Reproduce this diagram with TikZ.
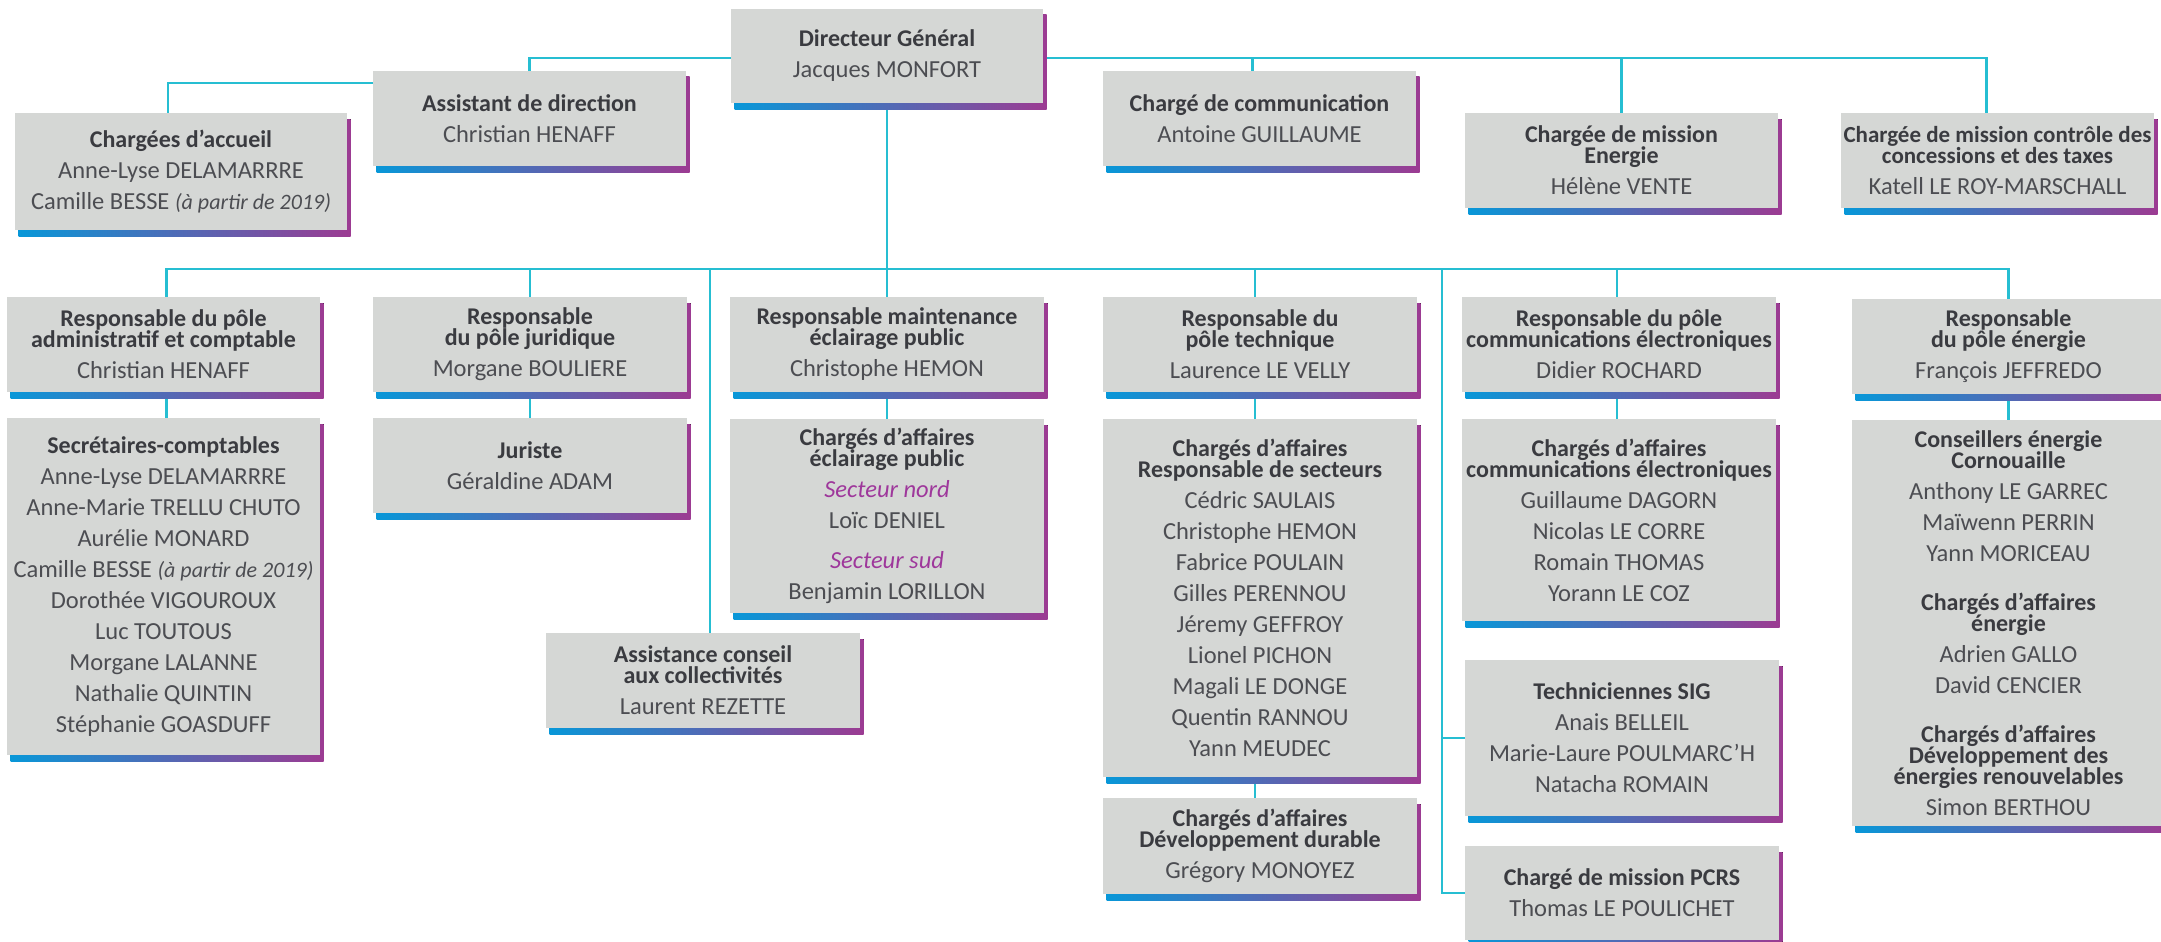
\documentclass[tikz,border=0pt]{standalone}
\usepackage{fontspec}
\setmainfont{Carlito}
\usetikzlibrary{calc}
\definecolor{conncol}{RGB}{38,190,210}
\definecolor{boxfill}{RGB}{213,215,213}
\definecolor{gb}{RGB}{8,151,216}
\definecolor{gp}{RGB}{156,59,146}
\definecolor{titlecol}{RGB}{58,59,64}
\definecolor{namecol}{RGB}{76,77,82}
\definecolor{sectcol}{RGB}{158,55,155}
\pgfdeclarelayer{connlayer}
\pgfdeclarelayer{shadlayer}
\pgfsetlayers{connlayer,shadlayer,main}
\tikzset{
  obox/.style={fill=boxfill, inner sep=0pt, outer sep=0pt, align=center,
    text=namecol, font=\fontsize{24.5}{31}\selectfont, anchor=north west},
  conn/.style={draw=conncol, line width=2.5pt},
  shadowbar/.style={left color=gb, right color=gp},
}
\newcommand\ttl[1]{{\fontsize{24}{31}\selectfont\bfseries\color{titlecol}#1}}
\newcommand\ttlsm[1]{{\fontsize{23}{31}\selectfont\bfseries\color{titlecol}#1}}
\newcommand\sectxt[1]{{\itshape\color{sectcol}#1}}
\newcommand\datenote[1]{{\fontsize{22}{31}\selectfont\itshape #1}}
\newcommand\obox[6]{%
  \node[obox, minimum width=#4pt, minimum height=#5pt] (#1) at (#2,#3) {#6};
  \begin{pgfonlayer}{shadlayer}
    \fill[shadowbar] ($(#1.north west)+(3.5,6)$) rectangle ($(#1.south east)+(3.5,6)$);
  \end{pgfonlayer}}
\begin{document}
\begin{tikzpicture}[x=1pt,y=-1pt]
\useasboundingbox (0,0) rectangle (2161,942);
\clip (0,0) rectangle (2161,942);
% level 1
\obox{dg}{731}{9}{312}{94}{\ttl{Directeur Général}\\Jacques MONFORT}
\obox{asst}{373}{71}{313}{95}{\ttl{Assistant de direction}\\Christian HENAFF}
\obox{accueil}{15}{113}{332}{117}{\ttl{Chargées d’accueil}\\Anne-Lyse DELAMARRRE\\Camille BESSE \datenote{(à partir de 2019)}}
\obox{comm}{1103}{71}{313}{95}{\ttl{Chargé de communication}\\Antoine GUILLAUME}
\obox{energ}{1465}{113}{313}{95}{\ttl{Chargée de mission}\\[-10pt]\ttl{Energie}\\Hélène VENTE}
\obox{ctrl}{1841}{113}{313}{95}{\ttlsm{Chargée de mission contrôle des}\\[-10pt]\ttlsm{concessions et des taxes}\\Katell LE ROY-MARSCHALL}
% level 2
\obox{adm}{7}{297}{313}{95}{\ttl{Responsable du pôle}\\[-10pt]\ttl{administratif et comptable}\\Christian HENAFF}
\obox{jur}{373}{297}{314}{95}{\ttl{Responsable}\\[-10pt]\ttl{du pôle juridique}\\Morgane BOULIERE}
\obox{maint}{730}{297}{314}{95}{\ttl{Responsable maintenance}\\[-10pt]\ttl{éclairage public}\\Christophe HEMON}
\obox{tech}{1103}{297}{314}{95}{\ttl{Responsable du}\\[-10pt]\ttl{pôle technique}\\Laurence LE VELLY}
\obox{celec}{1462}{297}{314}{95}{\ttl{Responsable du pôle}\\[-10pt]\ttl{communications électroniques}\\Didier ROCHARD}
\obox{pener}{1852}{299}{313}{95}{\ttl{Responsable}\\[-10pt]\ttl{du pôle énergie}\\François JEFFREDO}
% level 3
\obox{secr}{7}{418}{313}{337}{\ttl{Secrétaires-comptables}\\Anne-Lyse DELAMARRRE\\Anne-Marie TRELLU CHUTO\\Aurélie MONARD\\Camille BESSE \datenote{(à partir de 2019)}\\Dorothée VIGOUROUX\\Luc TOUTOUS\\Morgane LALANNE\\Nathalie QUINTIN\\Stéphanie GOASDUFF}
\obox{juriste}{373}{418}{314}{95}{\ttl{Juriste}\\Géraldine ADAM}
\obox{ecl}{730}{419}{314}{194}{\ttl{Chargés d’affaires}\\[-10pt]\ttl{éclairage public}\\\sectxt{Secteur nord}\\Loïc DENIEL\\[9pt]\sectxt{Secteur sud}\\Benjamin LORILLON}
\obox{assist}{546}{633}{314}{95}{\ttl{Assistance conseil}\\[-10pt]\ttl{aux collectivités}\\Laurent REZETTE}
\obox{secteurs}{1103}{419}{314}{358}{\ttl{Chargés d’affaires}\\[-10pt]\ttl{Responsable de secteurs}\\Cédric SAULAIS\\Christophe HEMON\\Fabrice POULAIN\\Gilles PERENNOU\\Jéremy GEFFROY\\Lionel PICHON\\Magali LE DONGE\\Quentin RANNOU\\Yann MEUDEC}
\obox{durable}{1103}{798}{314}{96}{\ttl{Chargés d’affaires}\\[-10pt]\ttl{Développement durable}\\Grégory MONOYEZ}
\obox{celec2}{1462}{419}{314}{202}{\ttl{Chargés d’affaires}\\[-10pt]\ttl{communications électroniques}\\Guillaume DAGORN\\Nicolas LE CORRE\\Romain THOMAS\\Yorann LE COZ}
\obox{sig}{1465}{660}{314}{156}{\ttl{Techniciennes SIG}\\Anais BELLEIL\\Marie-Laure POULMARC’H\\Natacha ROMAIN}
\obox{pcrs}{1465}{846}{314}{94}{\ttl{Chargé de mission PCRS}\\Thomas LE POULICHET}
\obox{cons}{1852}{420}{313}{406}{\ttl{Conseillers énergie}\\[-10pt]\ttl{Cornouaille}\\Anthony LE GARREC\\Maïwenn PERRIN\\Yann MORICEAU\\[18pt]\ttl{Chargés d’affaires}\\[-10pt]\ttl{énergie}\\Adrien GALLO\\David CENCIER\\[18pt]\ttl{Chargés d’affaires}\\[-10pt]\ttl{Développement des}\\[-10pt]\ttl{énergies renouvelables}\\Simon BERTHOU}
% connectors
\begin{pgfonlayer}{connlayer}
\coordinate (bus) at ($(adm.north)+(0,-28)$);
\coordinate (asj) at ($(assist.north)+(7,0)$);
\coordinate (rv) at (1442,269);
\draw[conn] (asst.north) |- ($(dg.west)+(0,2)$);
\draw[conn] ($(dg.east)+(0,2)$) -| ($(ctrl.north)+(-11,0)$);
\draw[conn] ($(comm.north)+(-7,0)$) -- ++(0,-13);
\draw[conn] (energ.north) -- ++(0,-55);
\draw[conn] ($(asst.north west)+(0,12)$) -| ($(accueil.north)+(-13,0)$);
\draw[conn] (dg.south) -- (maint.north);
\draw[conn] ($(adm.north)+(3,0)$) -- ++(0,-28) -| (pener.north);
\draw[conn] (jur.north) -- ++(0,-28);
\draw[conn] ($(tech.north)+(-5,0)$) -- ++(0,-28);
\draw[conn] ($(celec.north)+(-2,0)$) -- ++(0,-28);
\draw[conn] (asj) -- (asj |- bus);
\draw[conn] (rv) |- (pcrs.west);
\draw[conn] (rv |- sig.west) -- (sig.west);
\draw[conn] ($(adm.south)+(3,0)$) -- ($(secr.north)+(3,0)$);
\draw[conn] (jur.south) -- (juriste.north);
\draw[conn] (maint.south) -- (ecl.north);
\draw[conn] ($(tech.south)+(-5,0)$) -- ($(secteurs.north)+(-5,0)$);
\draw[conn] ($(secteurs.south)+(-5,0)$) -- ($(durable.north)+(-5,0)$);
\draw[conn] ($(celec.south)+(-2,0)$) -- ($(celec2.north)+(-2,0)$);
\draw[conn] (pener.south) -- (cons.north);
\end{pgfonlayer}
\end{tikzpicture}
\end{document}
